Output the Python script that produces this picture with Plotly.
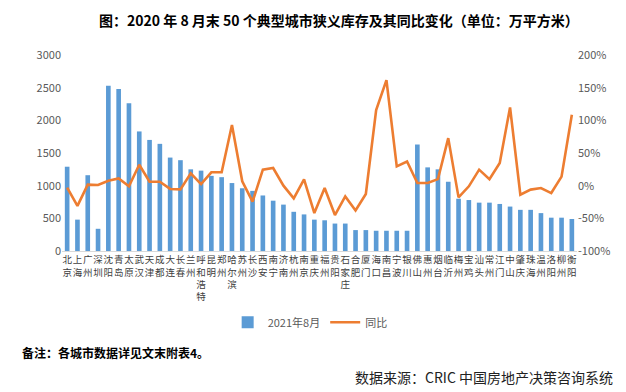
import plotly.graph_objects as go

cities = ["北京", "上海", "广州", "深圳", "沈阳", "青岛", "太原", "武汉", "天津", "成都",
          "大连", "长春", "兰州", "呼和浩特", "昆明", "郑州", "哈尔滨", "苏州", "长沙", "西安",
          "南宁", "济南", "杭州", "南京", "重庆", "福州", "贵阳", "石家庄", "合肥", "厦门",
          "海口", "南昌", "宁波", "银川", "佛山", "惠州", "烟台", "临沂", "梅州", "宝鸡",
          "汕头", "常州", "江门", "中山", "肇庆", "珠海", "温州", "洛阳", "柳州", "衡阳"]

stock_2021_08 = [1290, 480, 1160, 340, 2530, 2480, 2260, 1830, 1700, 1640,
                 1430, 1390, 1250, 1230, 1150, 1130, 1040, 960, 920, 850,
                 770, 710, 600, 560, 480, 470, 420, 420, 320, 320,
                 310, 310, 310, 310, 1630, 1280, 1250, 1060, 800, 780,
                 740, 740, 720, 680, 630, 630, 580, 510, 510, 490]

yoy = [-0.03, -0.31, 0.015, 0.01, 0.076, 0.11, -0.01, 0.32, 0.06, 0.06,
       -0.05, -0.057, 0.188, 0.025, 0.205, 0.205, 0.93, 0.066, -0.245, 0.245,
       0.27, 0.0, -0.194, 0.096, -0.42, -0.036, -0.45, -0.164, -0.38, -0.128,
       1.156, 1.615, 0.295, 0.37, 0.04, 0.04, 0.10, 0.728, -0.179, -0.01,
       0.245, 0.10, 0.346, 1.197, -0.138, -0.06, -0.036, -0.113, 0.138, 1.086]

left_ticks = [0, 500, 1000, 1500, 2000, 2500, 3000]
right_ticks = [-1.0, -0.5, 0.0, 0.5, 1.0, 1.5, 2.0]
right_tick_text = ["-100%", "-50%", "0%", "50%", "100%", "150%", "200%"]

tick_text = ["<br>".join(list(c)) for c in cities]

fig = go.Figure()
fig.add_trace(go.Bar(x=cities, y=stock_2021_08, name="2021年8月",
                     marker=dict(color="#5B9BD5", line=dict(width=0))))
fig.add_trace(go.Scatter(x=cities, y=yoy, name="同比", yaxis="y2", mode="lines",
                         line=dict(color="#ED7D31", width=2.6)))

W, H = 626, 392
ml, mr, mt, mb = 53.5, 56.8, 46.5, 149.3
plot_h = H - mt - mb
plot_w = W - ml - mr


def px_to_paper_x(px):
    return (px - ml) / plot_w


def px_to_paper_y(py):
    return (H - mb - py) / plot_h


fig.update_layout(
    width=W, height=H,
    margin=dict(l=ml, r=mr, t=mt, b=mb, pad=0),
    paper_bgcolor="white", plot_bgcolor="white",
    bargap=0.55,
    font=dict(family="Noto Sans CJK SC", color="#595959", size=11),
    xaxis=dict(type="category", tickmode="array", tickvals=cities, ticktext=tick_text,
               tickangle=0, showgrid=False, showline=True, linecolor="#D9D9D9",
               linewidth=1, ticks="", tickfont=dict(size=9.5, color="#404040",
                                                    family="Noto Sans CJK SC")),
    yaxis=dict(range=[0, 3000], tickvals=left_ticks, showgrid=False, zeroline=False,
               showline=False, ticks="", tickfont=dict(size=11, color="#595959")),
    yaxis2=dict(range=[-1, 2], tickvals=right_ticks, ticktext=right_tick_text,
                overlaying="y", side="right", showgrid=False, zeroline=False,
                showline=False, ticks="", tickfont=dict(size=11, color="#595959")),
    legend=dict(orientation="h", x=px_to_paper_x(302), xanchor="center",
                y=px_to_paper_y(314), yanchor="middle",
                font=dict(size=11, color="#595959"), bgcolor="rgba(0,0,0,0)"),
    showlegend=True,
)

fig.add_annotation(text="<b>图：2020 年 8 月末 50 个典型城市狭义库存及其同比变化（单位：万平方米）</b>",
                   xref="paper", yref="paper", x=px_to_paper_x(331), y=px_to_paper_y(0),
                   xanchor="center", yanchor="top", showarrow=False, borderpad=0,
                   font=dict(size=14, color="#000000", family="Noto Sans CJK SC"))
fig.add_annotation(text="<b>备注：各城市数据详见文末附表4。</b>",
                   xref="paper", yref="paper", x=px_to_paper_x(11), y=px_to_paper_y(344),
                   xanchor="left", yanchor="middle", showarrow=False,
                   font=dict(size=12, color="#000000", family="Noto Sans CJK SC"))
fig.add_annotation(text="数据来源：CRIC 中国房地产决策咨询系统",
                   xref="paper", yref="paper", x=px_to_paper_x(607), y=px_to_paper_y(369),
                   xanchor="right", yanchor="middle", showarrow=False,
                   font=dict(size=14, color="#222222", family="Noto Sans CJK SC"))

fig.write_html("out.html")
